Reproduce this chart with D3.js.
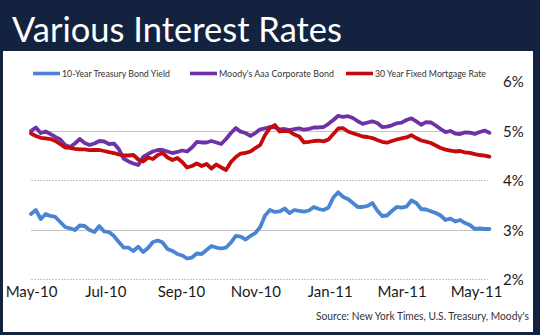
<!DOCTYPE html>
<html><head><meta charset="utf-8">
<script src="https://cdn.jsdelivr.net/npm/d3@7"></script>
<style>html,body{margin:0;padding:0;background:#13233f;}svg{display:block;}</style>
</head><body>
<script>
// ---- data ----
const title = "Various Interest Rates";
const seriesNames = ["10-Year Treasury Bond Yield", "Moody's Aaa Corporate Bond", "30 Year Fixed Mortgage Rate"];
const startDate = "2010-05-01";
const stepDays = 4;
const treasury = [3.313,3.394,3.212,3.313,3.273,3.253,3.152,3.051,3.024,2.990,3.081,3.071,2.990,2.949,3.071,2.960,2.949,2.869,2.747,2.636,
  2.632,2.566,2.653,2.545,2.626,2.747,2.778,2.737,2.606,2.566,2.505,2.475,2.414,2.434,2.515,2.505,2.586,2.667,2.636,2.616,
  2.636,2.737,2.869,2.855,2.798,2.869,2.929,3.051,3.283,3.394,3.354,3.364,3.424,3.333,3.394,3.374,3.360,3.384,3.455,3.414,
  3.394,3.444,3.646,3.752,3.657,3.616,3.535,3.455,3.455,3.475,3.535,3.384,3.273,3.283,3.374,3.455,3.444,3.461,3.586,3.535,
  3.414,3.404,3.370,3.333,3.283,3.192,3.222,3.162,3.192,3.131,3.091,3.010,3.020,3.010,3.010];
const moodys = [4.990,5.061,4.949,4.980,4.929,4.869,4.818,4.707,4.667,4.737,4.828,4.747,4.707,4.737,4.788,4.778,4.727,4.737,4.626,4.434,
  4.374,4.333,4.303,4.465,4.525,4.576,4.606,4.606,4.576,4.545,4.566,4.596,4.576,4.657,4.768,4.758,4.758,4.788,4.758,4.727,
  4.828,4.949,5.051,4.976,4.949,4.889,4.949,5.024,5.044,5.071,5.061,5.024,5.030,5.006,5.030,5.044,5.016,5.034,5.061,5.061,
  5.071,5.135,5.212,5.297,5.273,5.289,5.253,5.186,5.135,5.162,5.186,5.152,5.071,5.079,5.105,5.145,5.158,5.212,5.244,5.184,
  5.117,5.168,5.162,5.101,5.030,4.966,4.990,4.939,4.929,4.962,4.956,4.929,4.970,4.998,4.956];
const mortgage = [4.939,4.889,4.853,4.842,4.828,4.788,4.727,4.657,4.651,4.630,4.620,4.620,4.602,4.606,4.606,4.586,4.562,4.545,4.515,4.495,
  4.495,4.505,4.414,4.374,4.455,4.424,4.505,4.545,4.455,4.404,4.444,4.364,4.253,4.283,4.333,4.283,4.323,4.232,4.313,4.253,
  4.202,4.364,4.465,4.535,4.549,4.576,4.646,4.707,4.909,5.051,5.111,4.980,4.994,4.980,4.919,4.879,4.758,4.768,4.788,4.794,
  4.780,4.818,4.929,5.040,5.046,4.980,4.945,4.913,4.879,4.869,4.848,4.808,4.772,4.754,4.788,4.818,4.842,4.859,4.905,4.848,
  4.798,4.776,4.747,4.697,4.646,4.614,4.594,4.576,4.586,4.556,4.547,4.521,4.505,4.493,4.471];
const colors = ["#4a84d2", "#6f32a6", "#c40a0a"];
const xTickDates = ["2010-05-01","2010-07-01","2010-09-01","2010-11-01","2011-01-01","2011-03-01","2011-05-01"];
const yTicks = [2, 3, 4, 5, 6];
const source = "Source:  New York Times, U.S. Treasury, Moody's";

// ---- chart ----
const W = 540, H = 335;
const parse = d3.timeParse("%Y-%m-%d");
const t0 = parse(startDate);
const dates = treasury.map((_, i) => d3.timeDay.offset(t0, i * stepDays));

const svg = d3.select("body").append("svg").attr("width", W).attr("height", H);
svg.append("rect").attr("width", W).attr("height", H).attr("fill", "#13233f");
svg.append("rect").attr("x", 3).attr("y", 51).attr("width", 530).attr("height", 281).attr("fill", "#ffffff");

svg.append("text").attr("x", 12).attr("y", 42).text(title)
  .attr("fill", "#fff").attr("font-family", "Lato, 'Open Sans', sans-serif").attr("font-size", 34)
  .attr("textLength", 330).attr("lengthAdjust", "spacingAndGlyphs");

const x = d3.scaleTime().domain([parse("2010-05-01"), parse("2011-05-01")]).range([31, 476]);
const y = d3.scaleLinear().domain([2, 6]).range([279, 81]);
const plotRight = 488;

// gridlines
svg.append("g").selectAll("line").data(yTicks.filter(v => v < 6)).join("line")
  .attr("x1", 31).attr("x2", plotRight)
  .attr("y1", d => Math.round(y(d)) + 0.5).attr("y2", d => Math.round(y(d)) + 0.5)
  .attr("stroke", d => (d % 2 === 1) ? "#c4c4c4" : "#c8c8c8")
  .attr("stroke-width", 1)
  .attr("stroke-dasharray", d => (d % 2 === 1) ? null : "2,1");

// right axis labels
const yAxis = d3.axisRight(y).tickValues(yTicks).tickFormat(d => d + "%").tickSize(0).tickPadding(0);
const ya = svg.append("g").attr("transform", "translate(503,1)").call(yAxis);
ya.select(".domain").remove();
ya.selectAll("text").attr("font-family", "Lato, sans-serif").attr("font-size", 15).attr("fill", "#1a1a1a");

// x axis labels
const xAxis = d3.axisBottom(x).tickValues(xTickDates.map(parse)).tickFormat(d3.timeFormat("%b-%y")).tickSize(0).tickPadding(0);
const xa = svg.append("g").attr("transform", "translate(0,286)").call(xAxis);
xa.select(".domain").remove();
xa.selectAll("text").attr("font-family", "Lato, sans-serif").attr("font-size", 15).attr("fill", "#1a1a1a");

// lines
const line = d3.line().x((d, i) => x(dates[i])).y(d => y(d)).curve(d3.curveLinear);
[treasury, moodys, mortgage].forEach((s, k) => {
  svg.append("path").datum(s).attr("d", line).attr("fill", "none")
    .attr("stroke", colors[k]).attr("stroke-width", 3.8)
    .attr("stroke-linejoin", "round").attr("stroke-linecap", "round");
});

// legend
const legX = [33, 190, 346];
const legW = [108, 115, 111];
seriesNames.forEach((n, k) => {
  svg.append("line").attr("x1", legX[k]).attr("x2", legX[k] + 27).attr("y1", 73.5).attr("y2", 73.5)
    .attr("stroke", colors[k]).attr("stroke-width", 3.6);
  svg.append("text").attr("x", legX[k] + 29).attr("y", 77).text(n)
    .attr("font-family", "Lato, sans-serif").attr("font-size", 10).attr("fill", "#333")
    .attr("textLength", legW[k]).attr("lengthAdjust", "spacingAndGlyphs");
});

// source
svg.append("text").attr("x", 529).attr("y", 320).attr("text-anchor", "end").text(source)
  .attr("font-family", "Lato, sans-serif").attr("font-size", 10.5).attr("fill", "#333")
  .attr("textLength", 213).attr("lengthAdjust", "spacingAndGlyphs");
</script>
</body></html>
